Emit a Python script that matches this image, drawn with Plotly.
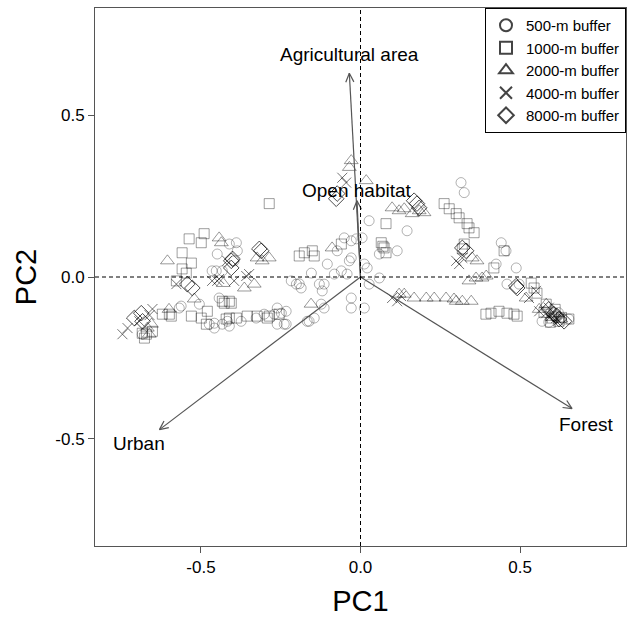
import math
import plotly.graph_objects as go

# ---------------- data (PC scores) ----------------
c500_x = [-0.386, -0.396, -0.192, -0.186, -0.120, -0.114, -0.082, -0.060, -0.042, -0.029,
          -0.104, -0.073, -0.029, -0.013, -0.051, -0.167, -0.145, -0.239, -0.270, -0.261,
          -0.302, -0.327, -0.374, -0.417, -0.029, -0.029, -0.114, -0.123, 0.027, 0.146,
          0.059, 0.115, 0.012, 0.021, 0.027, -0.035, -0.201, -0.129, -0.233, -0.248,
          -0.161, 0.315, 0.325, 0.005, 0.059, 0.012, 0.441, 0.456, 0.488, 0.425,
          0.459, 0.497, 0.569, -0.449, -0.465, -0.562, -0.505, -0.474, -0.458, -0.433,
          -0.443, -0.389, -0.411, -0.452, -0.433, -0.568, -0.458, -0.411, -0.261, -0.233,
          -0.684, 0.606, 0.653, -0.154, -0.217, 0.590, 0.620]
c500_y = [0.081, 0.050, -0.021, -0.034, -0.043, -0.022, 0.009, 0.019, 0.009, 0.059,
          0.040, 0.081, 0.112, 0.118, 0.121, -0.137, -0.127, -0.146, -0.115, -0.096,
          -0.115, -0.127, -0.137, -0.137, -0.096, -0.065, -0.096, -0.084, 0.174, 0.143,
          0.071, 0.081, 0.040, 0.028, -0.022, 0.050, -0.022, -0.022, -0.106, -0.112,
          -0.137, 0.292, 0.261, 0.121, -0.003, -0.096, 0.106, 0.081, 0.028, 0.040,
          -0.022, -0.022, -0.137, 0.071, 0.019, -0.090, -0.084, -0.146, -0.143, -0.146,
          -0.065, 0.106, 0.102, 0.019, 0.019, -0.096, -0.158, -0.152, -0.146, -0.146,
          -0.177, -0.121, -0.130, 0.012, -0.012, -0.140, -0.110]

c1000_x = [-0.286, -0.537, -0.490, -0.499, -0.559, -0.530, -0.546, -0.577, -0.559, -0.530,
           -0.480, -0.499, -0.427, -0.405, -0.433, -0.599, -0.621, -0.684, -0.671, -0.652,
           -0.677, -0.593, -0.483, -0.421, -0.389, -0.355, -0.324, -0.286, -0.255, -0.176,
           -0.151, -0.192, -0.145, -0.411, -0.411, -0.292, -0.060, 0.080, 0.065, 0.074,
           0.080, 0.262, 0.278, 0.300, 0.309, 0.334, 0.340, 0.356, 0.325, 0.319,
           0.450, 0.418, 0.535, 0.544, 0.553, 0.393, 0.409, 0.434, 0.459, 0.481,
           0.491, 0.582, 0.600, 0.622, 0.653, 0.070, 0.575, 0.610, 0.630, 0.595]
c1000_y = [0.227, 0.118, 0.134, 0.106, 0.075, 0.043, 0.012, -0.012, 0.025, -0.121,
           -0.106, -0.127, -0.081, -0.081, -0.075, -0.115, -0.115, -0.174, -0.177, -0.168,
           -0.189, -0.121, -0.146, -0.130, -0.127, -0.121, -0.121, -0.121, -0.115, 0.075,
           0.081, 0.065, 0.065, -0.075, -0.127, -0.127, 0.102, 0.165, 0.106, 0.090,
           0.075, 0.227, 0.211, 0.196, 0.183, 0.165, 0.152, 0.137, 0.102, 0.087,
           0.081, 0.028, -0.019, -0.034, -0.050, -0.115, -0.112, -0.106, -0.112, -0.115,
           -0.121, -0.084, -0.127, -0.137, -0.130, 0.095, -0.110, -0.100, -0.125, -0.140]

c2000_x = [-0.605, -0.443, -0.436, -0.521, -0.668, -0.655, -0.662, -0.324, -0.308, -0.286,
           -0.333, -0.364, -0.089, -0.029, -0.035, 0.018, 0.099, 0.121, 0.137, 0.162,
           0.184, 0.199, 0.121, 0.137, 0.168, 0.206, 0.231, 0.268, 0.293, 0.319,
           0.347, 0.340, 0.362, 0.381, 0.394, 0.350, 0.365, 0.300, 0.519, 0.582,
           0.606, 0.628, -0.155, -0.600, -0.430, 0.560, 0.600]
c2000_y = [0.050, 0.121, 0.106, -0.068, -0.158, -0.146, -0.177, 0.059, 0.050, 0.059,
           -0.022, -0.034, 0.090, 0.360, 0.339, 0.298, 0.214, 0.205, 0.211, 0.196,
           0.205, 0.199, -0.053, -0.053, -0.065, -0.065, -0.065, -0.065, -0.068, -0.075,
           -0.075, -0.012, -0.003, -0.003, 0.003, 0.059, 0.050, -0.075, -0.065, -0.084,
           -0.112, -0.130, -0.084, -0.100, -0.020, -0.100, -0.125]

c4000_x = [-0.746, -0.730, -0.652, -0.661, -0.465, -0.449, -0.443, -0.358, -0.349, -0.577,
           -0.418, -0.396, -0.057, -0.045, 0.099, 0.115, 0.127, 0.309, 0.300, 0.319,
           0.550, 0.528, 0.560, 0.582, 0.597, 0.613, -0.693, 0.590, 0.620]
c4000_y = [-0.177, -0.158, -0.099, -0.118, -0.012, -0.012, -0.006, 0.003, 0.009, -0.022,
           0.050, -0.012, 0.307, 0.292, -0.065, -0.075, -0.059, 0.040, 0.050, 0.059,
           -0.043, -0.065, -0.106, -0.112, -0.121, -0.127, -0.137, -0.095, -0.135]

c8000_x = [-0.709, -0.687, -0.683, -0.543, -0.527, -0.401, -0.317, -0.311, -0.405, -0.405,
           -0.073, -0.076, 0.168, 0.177, 0.184, 0.319, 0.331, 0.488, 0.491, 0.622,
           0.638, 0.606, 0.590, 0.615]
c8000_y = [-0.127, -0.112, -0.137, -0.022, -0.034, 0.056, 0.087, 0.081, 0.050, 0.028,
           0.258, 0.242, 0.236, 0.227, 0.214, 0.090, 0.081, -0.028, -0.034, -0.130,
           -0.137, -0.115, -0.100, -0.120]

series_names = ["500-m buffer", "1000-m buffer", "2000-m buffer", "4000-m buffer", "8000-m buffer"]

# loadings (arrows)
load_names = ["Agricultural area", "Open habitat", "Urban", "Forest"]
load_x = [-0.035, -0.011, -0.630, 0.663]
load_y = [0.630, 0.236, -0.472, -0.407]
label_x = [-0.035, -0.010, -0.693, 0.707]
label_y = [0.689, 0.267, -0.516, -0.457]

tick_vals = [-0.5, 0.0, 0.5]
tick_text = ["-0.5", "0.0", "0.5"]

# ---------------- figure ----------------
FONT = "Liberation Sans, Arial, sans-serif"
fig = go.Figure()

series = [
    (c500_x, c500_y, "circle-open", 10, "rgba(0,0,0,0.30)"),
    (c1000_x, c1000_y, "square-open", 10, "rgba(0,0,0,0.38)"),
    (c2000_x, c2000_y, "triangle-up-open", 12, "rgba(0,0,0,0.40)"),
    (c4000_x, c4000_y, "x-thin-open", 10, "rgba(0,0,0,0.55)"),
    (c8000_x, c8000_y, "diamond-open", 12, "rgba(0,0,0,0.70)"),
]
for (xs, ys, sym, sz, col), name in zip(series, series_names):
    fig.add_trace(go.Scatter(
        x=xs, y=ys, mode="markers", showlegend=False, name=name,
        marker=dict(symbol=sym, size=sz, color=col, line=dict(color=col, width=1)),
    ))
# legend entries
for (xs, ys, sym, sz, col), name in zip(series, series_names):
    fig.add_trace(go.Scatter(
        x=[None], y=[None], mode="markers", name=name,
        marker=dict(symbol=sym, size=8, color="#444", line=dict(color="#444", width=1)),
    ))

# arrows
ARROW = "#555555"
for lx, ly in zip(load_x, load_y):
    fig.add_shape(type="line", x0=0, y0=0, x1=lx, y1=ly, line=dict(color=ARROW, width=1.2))
    ang = math.atan2(ly, lx)
    hl = 0.03
    for da in (math.radians(25), -math.radians(25)):
        fig.add_shape(type="line", x0=lx, y0=ly,
                      x1=lx - hl * math.cos(ang + da), y1=ly - hl * math.sin(ang + da),
                      line=dict(color=ARROW, width=1.2))

# dashed zero lines
fig.add_shape(type="line", x0=0, x1=0, y0=0, y1=1, xref="x", yref="paper",
              line=dict(color="black", width=1, dash="4px,3px"))
fig.add_shape(type="line", x0=0, x1=1, y0=0, y1=0, xref="paper", yref="y",
              line=dict(color="black", width=1, dash="4px,3px"))

for name, tx, ty in zip(load_names, label_x, label_y):
    fig.add_annotation(x=tx, y=ty, text=name, showarrow=False,
                       font=dict(size=19, color="black", family=FONT))

axis_common = dict(
    showgrid=False, zeroline=False, showline=True, mirror=True,
    linecolor="#555", linewidth=1, ticks="outside", ticklen=6, tickcolor="#555",
    tickvals=tick_vals, ticktext=tick_text, tickfont=dict(size=17, color="black", family=FONT),
)
fig.update_xaxes(range=[-0.832, 0.832], title=dict(text="PC1", font=dict(size=29, family=FONT, color="black"), standoff=16), **axis_common)
fig.update_yaxes(range=[-0.832, 0.832], title=dict(text="PC2", font=dict(size=29, family=FONT, color="black"), standoff=10), **axis_common)

fig.update_layout(
    width=627, height=617,
    margin=dict(l=95, r=1, t=8, b=71),
    plot_bgcolor="white", paper_bgcolor="white",
    font=dict(family=FONT, color="black"),
    legend=dict(x=1, y=1, xanchor="right", yanchor="top", bgcolor="white",
                bordercolor="black", borderwidth=1, font=dict(size=15, family=FONT, color="black"),
                itemsizing="constant", tracegroupgap=0),
)

fig.write_html("out.html")
